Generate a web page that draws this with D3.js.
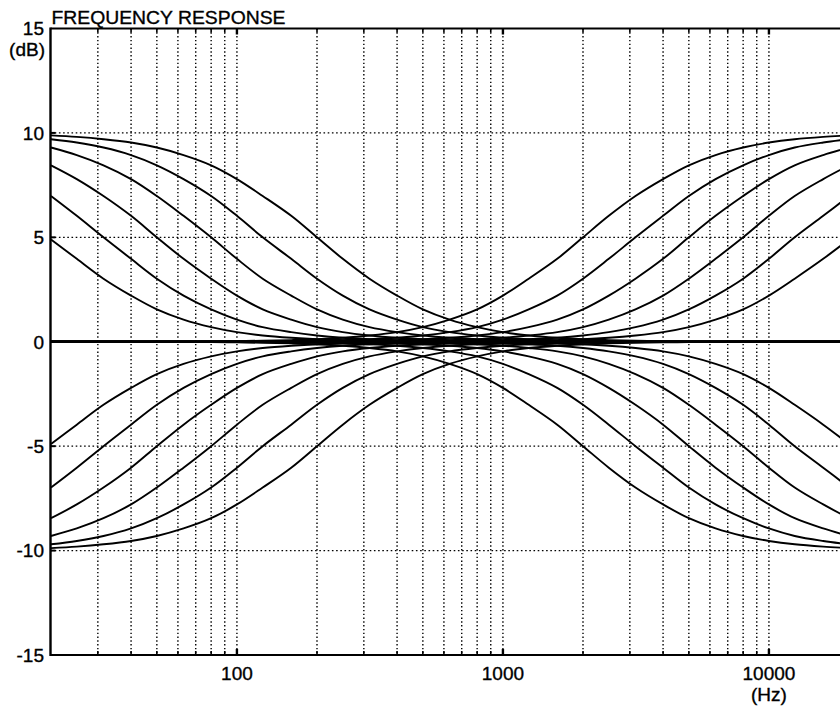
<!DOCTYPE html>
<html><head><meta charset="utf-8">
<script src="https://cdn.jsdelivr.net/npm/d3@7"></script>
<style>html,body{margin:0;padding:0;background:#fff}svg{display:block;font-family:"Liberation Sans",Arial,Helvetica,sans-serif}</style>
</head><body><svg id="c" width="840" height="707"></svg>
<script>
// Sample frequencies (Hz), 1/3 octave
const freqs = [20,25,31.5,40,50,63,80,100,125,160,200,250,315,400,500,630,800,1000,1250,1600,2000,2500,3150,4000,5000,6300,8000,10000,12500,16000,20000];

// Low shelf boost (dB)
const lowBoost1 = [9.88,9.81,9.70,9.54,9.30,8.94,8.45,7.79,6.98,6.03,5.00,3.97,3.02,2.21,1.55,1.06,0.70,0.46,0.30,0.19,0.12,0.08,0.05,0.03,0.02,0.01,0.01,0,0,0,0];
const lowBoost2 = [9.70,9.54,9.30,8.94,8.45,7.79,6.98,6.03,5.00,3.97,3.02,2.21,1.55,1.06,0.70,0.46,0.30,0.19,0.12,0.08,0.05,0.03,0.02,0.01,0.01,0,0,0,0,0,0];
const lowBoost3 = [9.30,8.94,8.45,7.79,6.98,6.03,5.00,3.97,3.02,2.21,1.55,1.06,0.70,0.46,0.30,0.19,0.12,0.08,0.05,0.03,0.02,0.01,0.01,0,0,0,0,0,0,0,0];
const lowBoost4 = [8.45,7.79,6.98,6.03,5.00,3.97,3.02,2.21,1.55,1.06,0.70,0.46,0.30,0.19,0.12,0.08,0.05,0.03,0.02,0.01,0.01,0,0,0,0,0,0,0,0,0,0];
const lowBoost5 = [6.98,6.03,5.00,3.97,3.02,2.21,1.55,1.06,0.70,0.46,0.30,0.19,0.12,0.08,0.05,0.03,0.02,0.01,0.01,0,0,0,0,0,0,0,0,0,0,0,0];
const lowBoost6 = [4.90,3.97,3.02,2.21,1.55,1.06,0.70,0.46,0.30,0.19,0.12,0.08,0.05,0.03,0.02,0.01,0.01,0,0,0,0,0,0,0,0,0,0,0,0,0,0];

// High shelf boost (dB)
const highBoost1 = [0,0,0,0,0.01,0.01,0.02,0.03,0.05,0.08,0.12,0.19,0.30,0.46,0.70,1.06,1.55,2.21,3.02,3.97,5.00,6.03,6.98,7.79,8.45,8.94,9.30,9.54,9.70,9.81,9.88];
const highBoost2 = [0,0,0,0,0,0,0.01,0.01,0.02,0.03,0.05,0.08,0.12,0.19,0.30,0.46,0.70,1.06,1.55,2.21,3.02,3.97,5.00,6.03,6.98,7.79,8.45,8.94,9.30,9.54,9.70];
const highBoost3 = [0,0,0,0,0,0,0,0,0.01,0.01,0.02,0.03,0.05,0.08,0.12,0.19,0.30,0.46,0.70,1.06,1.55,2.21,3.02,3.97,5.00,6.03,6.98,7.79,8.45,8.94,9.30];
const highBoost4 = [0,0,0,0,0,0,0,0,0,0,0.01,0.01,0.02,0.03,0.05,0.08,0.12,0.19,0.30,0.46,0.70,1.06,1.55,2.21,3.02,3.97,5.00,6.03,6.98,7.79,8.45];
const highBoost5 = [0,0,0,0,0,0,0,0,0,0,0,0,0.01,0.01,0.02,0.03,0.05,0.08,0.12,0.19,0.30,0.46,0.70,1.06,1.55,2.21,3.02,3.97,5.00,6.03,6.98];
const highBoost6 = [0,0,0,0,0,0,0,0,0,0,0,0,0,0,0.01,0.01,0.02,0.03,0.05,0.08,0.12,0.19,0.30,0.46,0.70,1.06,1.55,2.21,3.02,3.97,4.90];

// Low shelf cut (dB)
const lowCut1 = [-9.88,-9.81,-9.70,-9.54,-9.30,-8.94,-8.45,-7.79,-6.98,-6.03,-5.00,-3.97,-3.02,-2.21,-1.55,-1.06,-0.70,-0.46,-0.30,-0.19,-0.12,-0.08,-0.05,-0.03,-0.02,-0.01,-0.01,0,0,0,0];
const lowCut2 = [-9.70,-9.54,-9.30,-8.94,-8.45,-7.79,-6.98,-6.03,-5.00,-3.97,-3.02,-2.21,-1.55,-1.06,-0.70,-0.46,-0.30,-0.19,-0.12,-0.08,-0.05,-0.03,-0.02,-0.01,-0.01,0,0,0,0,0,0];
const lowCut3 = [-9.30,-8.94,-8.45,-7.79,-6.98,-6.03,-5.00,-3.97,-3.02,-2.21,-1.55,-1.06,-0.70,-0.46,-0.30,-0.19,-0.12,-0.08,-0.05,-0.03,-0.02,-0.01,-0.01,0,0,0,0,0,0,0,0];
const lowCut4 = [-8.45,-7.79,-6.98,-6.03,-5.00,-3.97,-3.02,-2.21,-1.55,-1.06,-0.70,-0.46,-0.30,-0.19,-0.12,-0.08,-0.05,-0.03,-0.02,-0.01,-0.01,0,0,0,0,0,0,0,0,0,0];
const lowCut5 = [-6.98,-6.03,-5.00,-3.97,-3.02,-2.21,-1.55,-1.06,-0.70,-0.46,-0.30,-0.19,-0.12,-0.08,-0.05,-0.03,-0.02,-0.01,-0.01,0,0,0,0,0,0,0,0,0,0,0,0];
const lowCut6 = [-4.90,-3.97,-3.02,-2.21,-1.55,-1.06,-0.70,-0.46,-0.30,-0.19,-0.12,-0.08,-0.05,-0.03,-0.02,-0.01,-0.01,0,0,0,0,0,0,0,0,0,0,0,0,0,0];

// High shelf cut (dB)
const highCut1 = [0,0,0,0,-0.01,-0.01,-0.02,-0.03,-0.05,-0.08,-0.12,-0.19,-0.30,-0.46,-0.70,-1.06,-1.55,-2.21,-3.02,-3.97,-5.00,-6.03,-6.98,-7.79,-8.45,-8.94,-9.30,-9.54,-9.70,-9.81,-9.88];
const highCut2 = [0,0,0,0,0,0,-0.01,-0.01,-0.02,-0.03,-0.05,-0.08,-0.12,-0.19,-0.30,-0.46,-0.70,-1.06,-1.55,-2.21,-3.02,-3.97,-5.00,-6.03,-6.98,-7.79,-8.45,-8.94,-9.30,-9.54,-9.70];
const highCut3 = [0,0,0,0,0,0,0,0,-0.01,-0.01,-0.02,-0.03,-0.05,-0.08,-0.12,-0.19,-0.30,-0.46,-0.70,-1.06,-1.55,-2.21,-3.02,-3.97,-5.00,-6.03,-6.98,-7.79,-8.45,-8.94,-9.30];
const highCut4 = [0,0,0,0,0,0,0,0,0,0,-0.01,-0.01,-0.02,-0.03,-0.05,-0.08,-0.12,-0.19,-0.30,-0.46,-0.70,-1.06,-1.55,-2.21,-3.02,-3.97,-5.00,-6.03,-6.98,-7.79,-8.45];
const highCut5 = [0,0,0,0,0,0,0,0,0,0,0,0,-0.01,-0.01,-0.02,-0.03,-0.05,-0.08,-0.12,-0.19,-0.30,-0.46,-0.70,-1.06,-1.55,-2.21,-3.02,-3.97,-5.00,-6.03,-6.98];
const highCut6 = [0,0,0,0,0,0,0,0,0,0,0,0,0,0,-0.01,-0.01,-0.02,-0.03,-0.05,-0.08,-0.12,-0.19,-0.30,-0.46,-0.70,-1.06,-1.55,-2.21,-3.02,-3.97,-4.90];

// Flat response
const flat = [0,0,0,0,0,0,0,0,0,0,0,0,0,0,0,0,0,0,0,0,0,0,0,0,0,0,0,0,0,0,0];

// Axis ticks / labels
const yTicks = [-15,-10,-5,0,5,10,15];
const yGrid = [-10,-5,5,10];
const xLabels = [100,1000,10000];
const title = "FREQUENCY RESPONSE";
const yUnit = "(dB)";
const xUnit = "(Hz)";

const series = [lowBoost1,lowBoost2,lowBoost3,lowBoost4,lowBoost5,lowBoost6,
  highBoost1,highBoost2,highBoost3,highBoost4,highBoost5,highBoost6,
  lowCut1,lowCut2,lowCut3,lowCut4,lowCut5,lowCut6,
  highCut1,highCut2,highCut3,highCut4,highCut5,highCut6, flat];

const svg = d3.select("#c");
const x = d3.scaleLog().domain([20,20000]).range([51,849]);
const y = d3.scaleLinear().domain([-15,15]).range([655,28.5]);
const pLeft = 50.5, pTop = y(15), pBottom = y(-15), pRight = 849;

svg.append("rect").attr("width",840).attr("height",707).attr("fill","#fff");

// vertical grid
const xGrid = x.ticks().filter(d => d > 20 && d < 20000);
svg.append("g").selectAll("line").data(xGrid).join("line")
  .attr("x1", d => x(d)).attr("x2", d => x(d))
  .attr("y1", pTop).attr("y2", pBottom)
  .attr("stroke","#000").attr("stroke-width",1.4).attr("stroke-dasharray","1.4,2.4");
// horizontal grid
svg.append("g").selectAll("line").data(yGrid).join("line")
  .attr("x1", pLeft).attr("x2", pRight)
  .attr("y1", d => y(d)).attr("y2", d => y(d))
  .attr("stroke","#000").attr("stroke-width",1.4).attr("stroke-dasharray","1.6,2.6");

// curves
const line = d3.line().x((d,i) => x(freqs[i])).y(d => y(d)).curve(d3.curveCatmullRom.alpha(0.5));
svg.append("g").selectAll("path").data(series).join("path")
  .attr("d", line).attr("fill","none").attr("stroke","#000").attr("stroke-width",1.9);

// frame
const frame = svg.append("g").attr("stroke","#000").attr("fill","none");
frame.append("line").attr("x1",pLeft).attr("x2",pLeft).attr("y1",pTop-1).attr("y2",pBottom+1).attr("stroke-width",2.4);
frame.append("line").attr("x1",pLeft).attr("x2",pRight).attr("y1",pTop).attr("y2",pTop).attr("stroke-width",2);
frame.append("line").attr("x1",pLeft).attr("x2",pRight).attr("y1",pBottom).attr("y2",pBottom).attr("stroke-width",2);

// tick marks
const tk = svg.append("g").attr("stroke","#000");
xGrid.forEach(d => {
  const big = xLabels.includes(d);
  const L = big ? 6 : 4;
  tk.append("line").attr("x1",x(d)).attr("x2",x(d)).attr("y1",pTop).attr("y2",pTop+L).attr("stroke-width", big?2.4:1.6);
  tk.append("line").attr("x1",x(d)).attr("x2",x(d)).attr("y1",pBottom).attr("y2",pBottom-L).attr("stroke-width", big?2.4:1.6);
});
yGrid.forEach(d => {
  tk.append("line").attr("x1",pLeft).attr("x2",pLeft+5).attr("y1",y(d)).attr("y2",y(d)).attr("stroke-width",2);
});

// labels
const fs = 19;
const txt = svg.append("g").attr("fill","#000").attr("stroke","#000").attr("stroke-width",0.35).attr("font-size",fs);
txt.append("text").attr("x",51.5).attr("y",24).attr("textLength",234).attr("lengthAdjust","spacingAndGlyphs").text(title);
txt.append("g").selectAll("text").data(yTicks).join("text")
  .attr("x",44).attr("y", d => y(d) + 6.8).attr("text-anchor","end")
  .text(d => d);
txt.append("text").attr("x",45).attr("y",56).attr("text-anchor","end").text(yUnit);
txt.append("g").selectAll("text").data(xLabels).join("text")
  .attr("x", d => x(d)).attr("y",680).attr("text-anchor","middle")
  .text(d => d);
txt.append("text").attr("x",x(10000)).attr("y",701).attr("text-anchor","middle").text(xUnit);
</script></body></html>
